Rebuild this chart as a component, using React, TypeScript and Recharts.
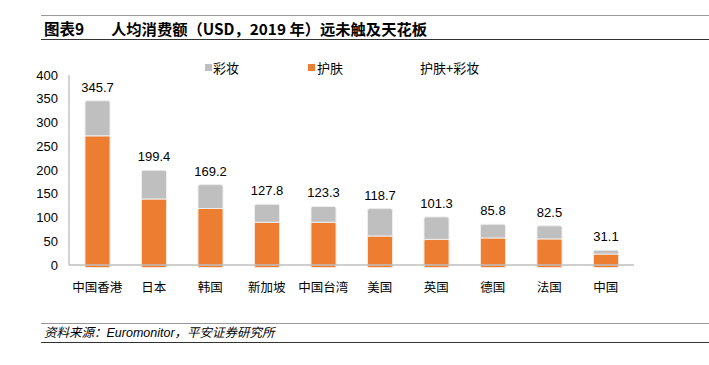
import React from "react";
import { Bar, BarChart, XAxis, YAxis, LabelList, Rectangle } from "recharts";

const regions = ["中国香港", "日本", "韩国", "新加坡", "中国台湾", "美国", "英国", "德国", "法国", "中国"];
const totals = [345.7, 199.4, 169.2, 127.8, 123.3, 118.7, 101.3, 85.8, 82.5, 31.1];
const skincare = [272, 139, 119, 90, 90, 61, 54, 57, 55, 23];
const yTicks = [0, 50, 100, 150, 200, 250, 300, 350, 400];
const boundaryTicks = [0, 1, 2, 3, 4, 5, 6, 7, 8, 9, 10];

const data = regions.map((name, i) => ({
  name,
  skincare: skincare[i],
  makeup: +(totals[i] - skincare[i]).toFixed(1),
  total: totals[i],
}));

const FONT = "'Liberation Sans', Arial, 'Noto Sans CJK SC', sans-serif";
const CJK = "'Noto Sans CJK SC', sans-serif";
const AXIS = "#BFBFBF";

// bottom segment runs a few px past the axis line, like the original
const SkinShape = (props: any) => <Rectangle {...props} height={props.height + 2.5} radius={1.5} />;
const MakeupShape = (props: any) => <Rectangle {...props} radius={[2, 2, 0, 0]} />;

const LegendBox = () => (
  <div style={{ position: "absolute", top: 60, left: 0, width: 709, fontSize: 13, lineHeight: "16px", fontFamily: CJK, color: "#000" }}>
    <span style={{ position: "absolute", left: 205, top: 4, width: 7, height: 7, background: "#BFBFBF" }} />
    <span style={{ position: "absolute", left: 213, top: 0 }}>彩妆</span>
    <span style={{ position: "absolute", left: 308, top: 4, width: 7, height: 7, background: "#ED7D31" }} />
    <span style={{ position: "absolute", left: 317, top: 0 }}>护肤</span>
    <span style={{ position: "absolute", left: 420, top: 0 }}>护肤+彩妆</span>
  </div>
);

export default function App() {
  return (
    <div style={{ position: "absolute", left: 0, top: 0, width: 709, height: 365, background: "#fff", fontFamily: FONT }}>
      <div style={{ position: "absolute", left: 41, right: 0, top: 15, borderTop: "1.5px solid #999" }} />
      <div style={{ position: "absolute", left: 44, top: 18, fontSize: 15.5, fontWeight: "bold", fontFamily: CJK, lineHeight: "21px" }}>
        图表9
      </div>
      <div style={{ position: "absolute", left: 111, top: 18, fontSize: 15.3, fontWeight: "bold", fontFamily: CJK, lineHeight: "21px" }}>
        人均消费额（USD，2019 年）远未触及天花板
      </div>
      <div style={{ position: "absolute", left: 41, right: 0, top: 39, borderTop: "1px solid #333" }} />

      <LegendBox />

      <div style={{ position: "absolute", left: 0, top: 0 }}>
        <BarChart width={709} height={365} data={data} margin={{ top: 75, right: 75, left: 0, bottom: 70 }} barSize={25}>
          <Bar dataKey="skincare" stackId="a" fill="#ED7D31" stroke="#FBE3D3" strokeWidth={1} shape={SkinShape} isAnimationActive={false} />
          <Bar dataKey="makeup" stackId="a" fill="#BFBFBF" stroke="#EEEEEE" strokeWidth={1} shape={MakeupShape} isAnimationActive={false}>
            <LabelList dataKey="total" position="top" offset={9} fill="#000" fontSize={13} fontFamily={FONT} />
          </Bar>
          <XAxis
            dataKey="name"
            height={30}
            axisLine={{ stroke: AXIS, strokeWidth: 1.5 }}
            tickLine={false}
            tick={{ fill: "#000", fontSize: 12.5, fontFamily: CJK }}
            dy={10}
            interval={0}
          />
          <XAxis
            xAxisId="edges"
            type="number"
            domain={[0, 10]}
            allowDataOverflow
            ticks={boundaryTicks}
            interval={0}
            mirror
            height={0}
            axisLine={false}
            tickSize={3}
            tickLine={{ stroke: "#A6A6A6" }}
            tickFormatter={() => ""}
          />
          <YAxis
            width={69}
            domain={[0, 400]}
            ticks={yTicks}
            axisLine={{ stroke: "#A6A6A6" }}
            tickLine={false}
            tickSize={9}
            tickMargin={2}
            tick={{ fill: "#000", fontSize: 13, fontFamily: FONT }}
          />
          <YAxis
            yAxisId="inner"
            domain={[0, 400]}
            allowDataOverflow
            ticks={yTicks}
            interval={0}
            mirror
            width={0}
            axisLine={false}
            tickSize={3}
            tickLine={{ stroke: "#A6A6A6" }}
            tickFormatter={() => ""}
          />
        </BarChart>
      </div>

      <div style={{ position: "absolute", left: 41, right: 0, top: 323, borderTop: "1.5px solid #999" }} />
      <div style={{ position: "absolute", left: 44, top: 325, fontSize: 12.5, fontStyle: "italic", lineHeight: "17px", fontFamily: FONT }}>
        资料来源：Euromonitor，平安证券研究所
      </div>
      <div style={{ position: "absolute", left: 41, right: 0, top: 342, borderTop: "1px solid #333" }} />
    </div>
  );
}
